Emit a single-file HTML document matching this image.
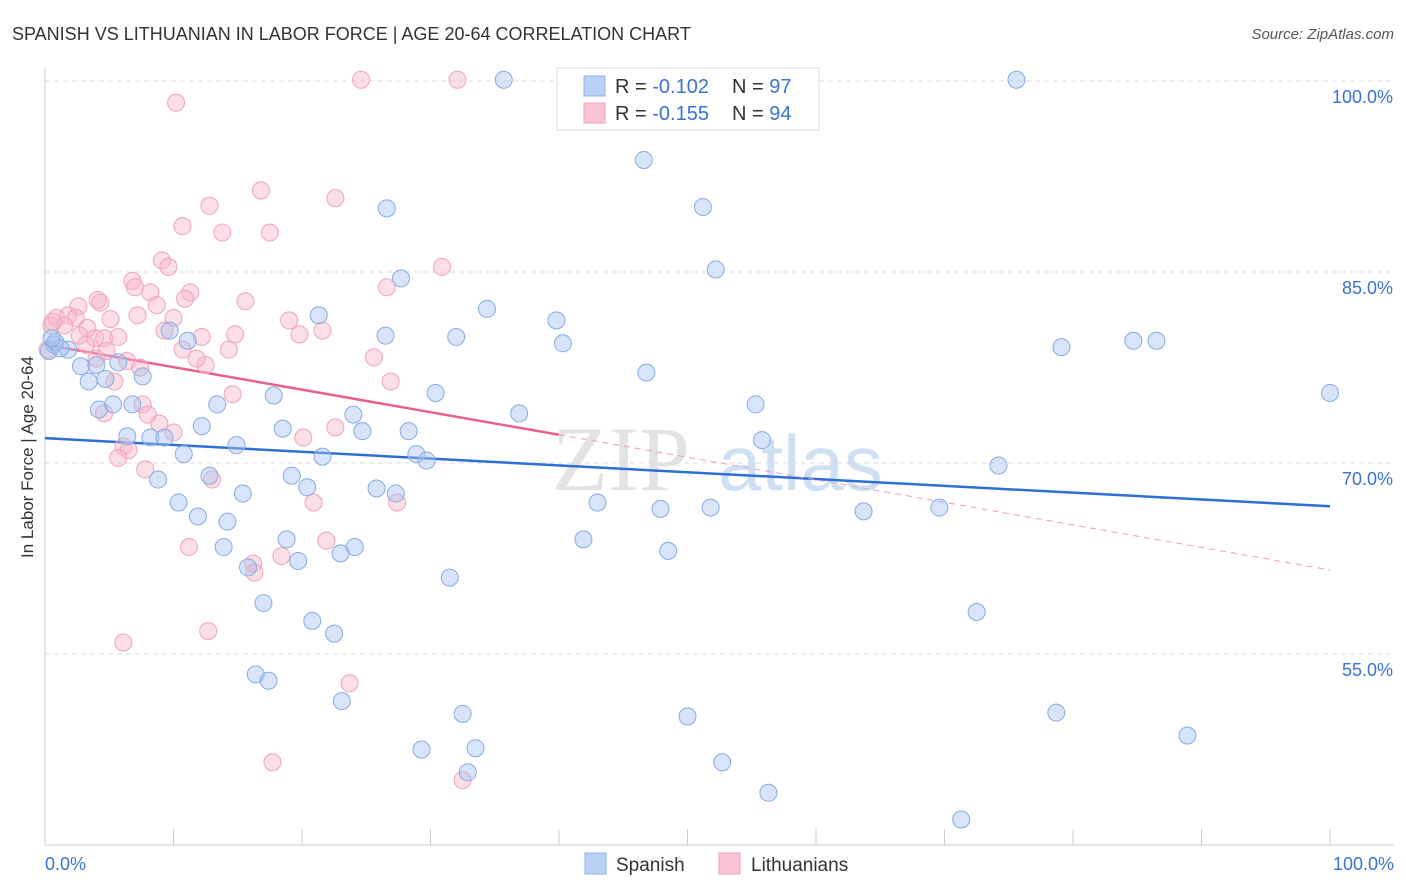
<!DOCTYPE html>
<html><head><meta charset="utf-8"><style>
body{margin:0;background:#fff;font-family:"Liberation Sans",sans-serif;}
svg{display:block}
</style></head><body>
<svg id="chart" width="1406" height="892">
<text x="12" y="40" font-size="18" fill="#333">SPANISH VS LITHUANIAN IN LABOR FORCE | AGE 20-64 CORRELATION CHART</text>
<text x="1394" y="39" font-size="15" fill="#555" font-style="italic" text-anchor="end">Source: ZipAtlas.com</text>
<text x="33" y="457" font-size="17" fill="#333" text-anchor="middle" transform="rotate(-90 33 457)">In Labor Force | Age 20-64</text>
<g><text x="552" y="490" font-size="92" fill="#d8d8d8" font-family="Liberation Serif,serif" opacity="0.7">ZIP</text><text x="718" y="490" font-size="78" fill="#bcd3ef" opacity="0.7">atlas</text></g>
<g id="grid"></g><g id="axes"></g><g id="trends"></g><g id="pts"></g>
<g>
<rect x="557" y="68" width="262" height="62" fill="#fff" stroke="#ddd"/>
<rect x="584" y="76" width="21" height="20" fill="#b8d1f5" stroke="#8fb3e8"/>
<rect x="584" y="103" width="21" height="20" fill="#f9c5d4" stroke="#f0a0b8"/>
<text x="615" y="93" font-size="20" fill="#333">R = <tspan fill="#3a73d0">-0.102</tspan><tspan x="732">N = </tspan><tspan fill="#3a73d0">97</tspan></text>
<text x="615" y="120" font-size="20" fill="#333">R = <tspan fill="#3a73d0">-0.155</tspan><tspan x="732">N = </tspan><tspan fill="#3a73d0">94</tspan></text>
</g>
<g>
<rect x="585" y="853" width="21" height="21" fill="#b8d1f5" stroke="#8fb3e8"/>
<text x="616" y="871" font-size="19" fill="#333">Spanish</text>
<rect x="719" y="853" width="21" height="21" fill="#f9c5d4" stroke="#f0a0b8"/>
<text x="751" y="871" font-size="19" fill="#333">Lithuanians</text>
</g>
</svg>
<script>
const yTicks=[55,70,85,100];
const yTickLabels=["55.0%","70.0%","85.0%","100.0%"];
const xTicks=[0,10,20,30,40,50,60,70,80,90,100];
const xEndLabels=["0.0%","100.0%"];
const spanishX=[35.7,75.6,46.6,26.6,51.2,52.2,27.7,34.4,21.3,39.8,26.5,32.0,40.3,79.1,84.7,86.5,11.1,9.7,0.7,1.8,2.8,4.0,5.7,7.6,3.4,4.7,46.8,100,30.4,17.8,36.9,55.3,24.0,13.4,4.2,5.3,6.8,12.2,18.5,24.7,28.3,6.4,8.2,9.3,14.9,55.8,10.8,21.6,28.9,29.7,74.2,12.8,19.2,8.8,20.4,15.4,25.8,27.3,43.0,10.4,51.8,47.9,63.7,69.6,11.9,14.2,18.8,41.9,24.1,13.9,48.5,23.0,19.7,15.8,31.5,17.0,72.5,20.8,22.5,16.4,17.4,23.1,32.5,50.0,78.7,29.3,33.5,52.7,88.9,56.3,32.9,71.3,45.4,0.3,0.8,1.2,0.5];
const spanishY=[100.1,100.1,93.8,90.0,90.1,85.2,84.5,82.1,81.6,81.2,80.0,79.9,79.4,79.1,79.6,79.6,79.6,80.4,79.3,78.9,77.6,77.7,77.9,76.8,76.4,76.6,77.1,75.5,75.5,75.3,73.9,74.6,73.8,74.6,74.2,74.6,74.6,72.9,72.7,72.5,72.5,72.1,72.0,72.0,71.4,71.8,70.7,70.5,70.7,70.2,69.8,69.0,69.0,68.7,68.1,67.6,68.0,67.6,66.9,66.9,66.5,66.4,66.2,66.5,65.8,65.4,64.0,64.0,63.4,63.4,63.1,62.9,62.3,61.8,61.0,59.0,58.3,57.6,56.6,53.4,52.9,51.3,50.3,50.1,50.4,47.5,47.6,46.5,48.6,44.1,45.7,42.0,100.1,78.8,79.5,79.0,79.8];
const lithX=[24.6,32.1,10.2,16.8,22.6,12.8,10.7,13.8,17.5,9.1,9.6,30.9,6.8,7.0,11.3,8.2,4.1,4.3,10.9,15.6,8.7,26.6,2.6,0.9,1.8,2.4,3.3,5.1,10.0,7.2,19.0,21.6,19.8,0.5,1.5,2.7,3.9,4.6,5.7,12.2,14.8,9.3,10.7,14.3,3.2,4.8,25.6,4.0,6.4,12.5,7.4,11.8,5.4,26.9,14.6,7.6,8.0,4.6,8.9,10.0,6.1,22.6,20.1,6.5,5.7,7.8,13.0,20.9,27.4,11.2,21.9,18.4,16.2,16.3,12.7,6.1,23.7,17.7,32.5,0.2,0.6];
const lithY=[100.1,100.1,98.3,91.4,90.8,90.2,88.6,88.1,88.1,85.9,85.4,85.4,84.3,83.8,83.4,83.4,82.8,82.6,82.9,82.7,82.4,83.8,82.3,81.4,81.6,81.4,80.6,81.3,81.4,81.6,81.2,80.4,80.1,80.8,80.8,80.0,79.8,79.8,79.9,79.9,80.1,80.4,78.9,78.9,79.3,78.8,78.3,78.2,78.0,77.7,77.5,78.2,76.4,76.4,75.4,74.6,73.8,73.9,73.1,72.4,71.3,72.8,72.0,71.0,70.4,69.5,68.7,66.9,66.9,63.4,63.9,62.7,62.1,61.4,56.8,55.9,52.7,46.5,45.1,78.9,81.1];
const blueTrend=[71.95,66.6];
const pinkTrend=[79.3,61.6];
const pinkSolidEnd=40;

const NS="http://www.w3.org/2000/svg";
const X=v=>45+v*12.85;
const Y=v=>463-(v-70)*12.733;
function mk(tag,attrs,parent){const e=document.createElementNS(NS,tag);for(const k in attrs)e.setAttribute(k,attrs[k]);document.getElementById(parent).appendChild(e);return e;}
yTicks.forEach((t,i)=>{
  const l=mk('line',{x1:45,x2:1394,y1:Y(t),y2:Y(t),stroke:'#ddd','stroke-dasharray':'5,4'},'grid');
  
  
  const tx=mk('text',{x:1393,y:Y(t)+22,'font-size':18,fill:'#3a73d0','text-anchor':'end'},'grid');
  tx.textContent=yTickLabels[i];
  
  
});
const la=mk('line',{x1:45,x2:45,y1:68,y2:845,stroke:'#ccc'},'axes');


const lb=mk('line',{x1:45,x2:1394,y1:845,y2:845,stroke:'#ccc'},'axes');


xTicks.forEach(t=>{
  const l=mk('line',{x1:X(t),x2:X(t),y1:829,y2:845,stroke:'#ccc'},'axes');
  
  
});
[[0,'start',45],[100,'end',1394]].forEach((d,i)=>{
  const tx=mk('text',{x:d[2],y:870,'font-size':18,fill:'#3a73d0','text-anchor':d[1]},'axes');
  tx.textContent=xEndLabels[i];
  
  
});
function dot(x,y,fill,stroke,name){
  const c=mk('circle',{cx:X(x),cy:Y(y),r:8.5,fill:fill,stroke:stroke,'stroke-width':1},'pts');
  
  
}
lithX.forEach((x,i)=>dot(x,lithY[i],'rgba(248,182,202,0.45)','#f0a3bb','lithuanian-point'));
spanishX.forEach((x,i)=>dot(x,spanishY[i],'rgba(166,196,242,0.45)','#87acdf','spanish-point'));
const pinkAt=x=>pinkTrend[0]+(pinkTrend[1]-pinkTrend[0])*x/100;
const bt=mk('line',{x1:X(0),y1:Y(blueTrend[0]),x2:X(100),y2:Y(blueTrend[1]),stroke:'#2c6fd6','stroke-width':2.5},'trends');


const ps=mk('line',{x1:X(0),y1:Y(pinkAt(0)),x2:X(pinkSolidEnd),y2:Y(pinkAt(pinkSolidEnd)),stroke:'#e8618c','stroke-width':2.5},'trends');


const pd=mk('line',{x1:X(pinkSolidEnd),y1:Y(pinkAt(pinkSolidEnd)),x2:X(100),y2:Y(pinkAt(100)),stroke:'#e8a0b8','stroke-width':1,'stroke-dasharray':'6,5'},'trends');


</script>
</body></html>
